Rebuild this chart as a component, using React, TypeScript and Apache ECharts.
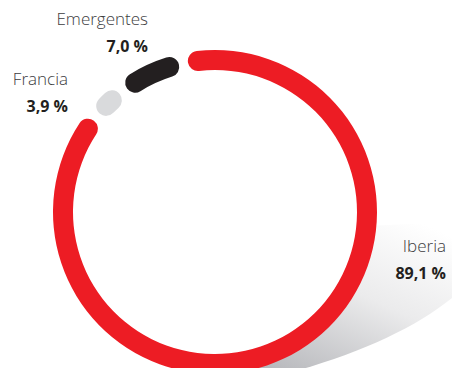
import React, { useEffect, useRef } from "react";
import * as echarts from "echarts";

const categories = ["Iberia", "Francia", "Emergentes"];
const values = [89.1, 3.9, 7.0];
const colors = ["#ed1c24", "#d9dadc", "#231f20"];
// label layout (right edge x, name baseline y)
const labelPos = [
  [446, 254],
  [68, 87],
  [148, 27],
];

const CX = 215;
const CY = 212;

function fmt(v: number) {
  return v.toFixed(1).replace(".", ",") + " %";
}

function shadowPoints() {
  const pts: number[][] = [];
  pts.push([366, 226]);
  pts.push([452, 222]);
  pts.push([452, 298]);
  const p0 = [452, 298], c = [385, 352], p1 = [245, 384];
  for (let i = 1; i <= 20; i++) {
    const t = i / 20;
    const x = (1 - t) * (1 - t) * p0[0] + 2 * (1 - t) * t * c[0] + t * t * p1[0];
    const y = (1 - t) * (1 - t) * p0[1] + 2 * (1 - t) * t * c[1] + t * t * p1[1];
    pts.push([x, y]);
  }
  const r = 150;
  for (let a = 172; a >= 95; a -= 3) {
    const rad = (a * Math.PI) / 180;
    pts.push([CX + r * Math.sin(rad), CY - r * Math.cos(rad)]);
  }
  return pts;
}

export default function App() {
  const ref = useRef<HTMLDivElement>(null);
  useEffect(() => {
    if (!ref.current) return;
    const chart = echarts.init(ref.current, null, { renderer: "svg" });
    const texts: any[] = [];
    categories.forEach((name, i) => {
      const [x, y] = labelPos[i];
      texts.push({
        type: "text",
        x,
        y,
        z: 10,
        style: {
          text: name,
          fill: "#3c3c3e",
          font: '300 17px "Open Sans", sans-serif',
          align: "right",
          verticalAlign: "bottom",
        },
      });
      texts.push({
        type: "text",
        x,
        y: y + 27,
        z: 10,
        style: {
          text: fmt(values[i]),
          fill: "#231f20",
          font: 'bold 16px "Open Sans", sans-serif',
          align: "right",
          verticalAlign: "bottom",
        },
      });
    });
    chart.setOption({
      animation: false,
      graphic: [
        {
          type: "polygon",
          z: 0,
          shape: { points: shadowPoints() },
          style: {
            fill: new echarts.graphic.LinearGradient(0.85, 0, 0.25, 1, [
              { offset: 0, color: "#ffffff" },
              { offset: 0.45, color: "#ebebec" },
              { offset: 1, color: "#b5b6ba" },
            ]),
          },
        },
        ...texts,
      ],
      series: [
        {
          type: "pie",
          z: 5,
          center: [CX, CY],
          radius: [142, 162],
          startAngle: 102,
          clockwise: true,
          padAngle: 3.5,
          silent: true,
          label: { show: false },
          labelLine: { show: false },
          itemStyle: { borderRadius: 10 },
          data: categories.map((name, i) => ({
            name,
            value: values[i],
            itemStyle: { color: colors[i] },
          })),
        },
      ],
    });
    return () => chart.dispose();
  }, []);
  return (
    <div
      ref={ref}
      style={{ position: "fixed", left: 0, top: 0, width: 452, height: 368, background: "#fff" }}
    />
  );
}
